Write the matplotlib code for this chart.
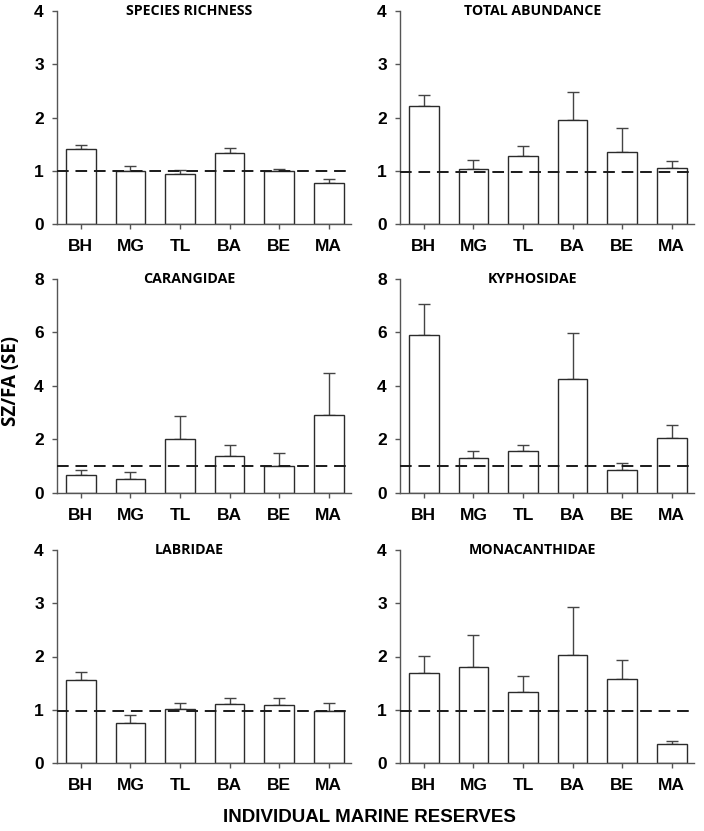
import matplotlib
matplotlib.use("Agg")
import matplotlib.pyplot as plt

sites = ["BH", "MG", "TL", "BA", "BE", "MA"]

titles = ["SPECIES RICHNESS", "TOTAL ABUNDANCE", "CARANGIDAE",
          "KYPHOSIDAE", "LABRIDAE", "MONACANTHIDAE"]

richness = [1.41, 1.00, 0.94, 1.33, 1.00, 0.77]
richness_se = [0.08, 0.08, 0.07, 0.09, 0.04, 0.07]

abundance = [2.21, 1.03, 1.27, 1.96, 1.36, 1.05]
abundance_se = [0.22, 0.17, 0.20, 0.51, 0.45, 0.14]

carangidae = [0.67, 0.54, 2.02, 1.39, 1.02, 2.91]
carangidae_se = [0.18, 0.26, 0.84, 0.42, 0.47, 1.58]

kyphosidae = [5.92, 1.31, 1.57, 4.27, 0.86, 2.07]
kyphosidae_se = [1.13, 0.26, 0.24, 1.71, 0.28, 0.48]

labridae = [1.55, 0.76, 1.02, 1.10, 1.08, 0.98]
labridae_se = [0.15, 0.15, 0.11, 0.13, 0.14, 0.15]

monacanthidae = [1.69, 1.81, 1.34, 2.03, 1.58, 0.36]
monacanthidae_se = [0.32, 0.60, 0.29, 0.90, 0.35, 0.06]

ref_lines = [1.00, 0.98, 1.01, 1.01, 0.98, 0.97]
ymax = [4, 4, 8, 8, 4, 4]
yticks = [[0, 1, 2, 3, 4], [0, 1, 2, 3, 4], [0, 2, 4, 6, 8],
          [0, 2, 4, 6, 8], [0, 1, 2, 3, 4], [0, 1, 2, 3, 4]]

means = [richness, abundance, carangidae, kyphosidae, labridae, monacanthidae]
errs = [richness_se, abundance_se, carangidae_se, kyphosidae_se,
        labridae_se, monacanthidae_se]

W, H = 704, 831
fig = plt.figure(figsize=(W / 100, H / 100), dpi=100)

# panel positions in pixels (left, top, right, bottom)
cols = [(57, 351), (400, 694)]
rows = [(11, 224), (279, 493), (550, 763)]

x = list(range(len(sites)))
edge = "#2b2b2b"

for i in range(6):
    c0, c1 = cols[i % 2]
    r0, r1 = rows[i // 2]
    ax = fig.add_axes([c0 / W, 1 - r1 / H, (c1 - c0) / W, (r1 - r0) / H])
    ax.bar(x, means[i], width=0.6, color="white", edgecolor=edge,
           linewidth=1.0, zorder=2)
    ax.errorbar(x, means[i], yerr=[[0] * 6, errs[i]], fmt="none",
                ecolor="#444444", elinewidth=1.0, capsize=4, capthick=1.0,
                zorder=1)
    ax.axhline(ref_lines[i], color="#1a1a1a", linestyle=(0, (6, 3.5)),
               linewidth=1.4, zorder=3)
    ax.set_xlim(-0.48, 5.45)
    ax.set_ylim(0, ymax[i])
    ax.set_yticks(yticks[i])
    ax.set_xticks(x)
    ax.set_xticklabels(sites)
    for s in ["top", "right"]:
        ax.spines[s].set_visible(False)
    for s in ["left", "bottom"]:
        ax.spines[s].set_color("#555555")
        ax.spines[s].set_linewidth(1.0)
    ax.tick_params(axis="both", direction="out", length=3.5, width=1.0,
                   color="#555555", labelsize=12.5)
    ax.tick_params(axis="x", pad=7)
    ax.tick_params(axis="y", pad=6)
    for lab in ax.get_xticklabels() + ax.get_yticklabels():
        lab.set_fontfamily("Liberation Sans")
        lab.set_fontweight("bold")
    ax.text(0.45, 1.0, titles[i], transform=ax.transAxes, ha="center",
            va="center", fontsize=10.2, fontweight="bold",
            fontfamily="Open Sans")

fig.text(11 / W, 1 - 381 / H, "SZ/FA (SE)", rotation=90, ha="center",
         va="center", fontsize=13.5, fontweight="bold", fontfamily="Open Sans")
fig.text(369 / W, 1 - 818 / H, "INDIVIDUAL MARINE RESERVES", ha="center",
         va="center", fontsize=13.5, fontweight="bold",
         fontfamily="Liberation Sans")

fig.savefig("out.png", dpi=100)
